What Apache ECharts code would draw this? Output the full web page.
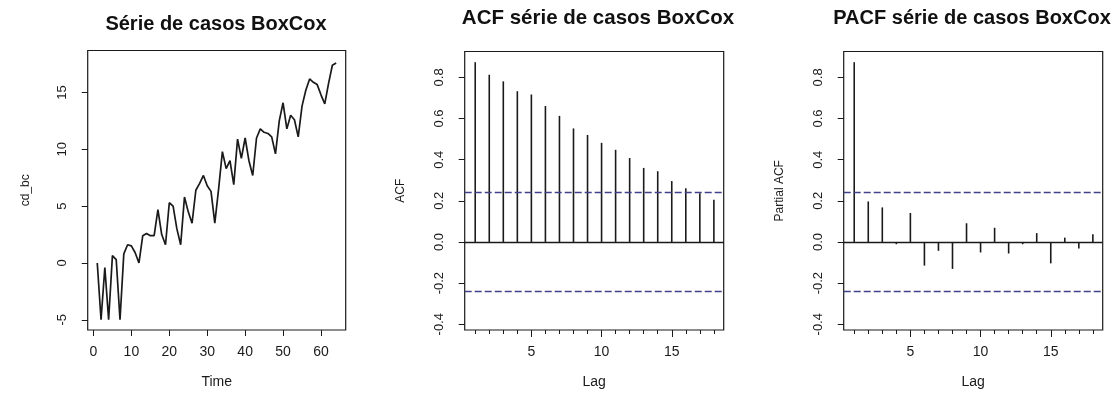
<!DOCTYPE html>
<html>
<head>
<meta charset="utf-8">
<script src="https://cdn.jsdelivr.net/npm/echarts@6/dist/echarts.min.js"></script>
<style>
html,body{margin:0;padding:0;background:#fff;}
#chart{width:1119px;height:394px;}
</style>
</head>
<body>
<div id="chart"></div>
<script>
// ---- data ----
const timeIndex = [];
for (let i = 1; i <= 64; i++) timeIndex.push(i);
const cdBc = [
  0.0, -5.0, -0.4, -5.0, 0.65, 0.3, -5.0, 0.8, 1.6, 1.5,
  0.9, 0.0, 2.4, 2.6, 2.4, 2.4, 4.7, 2.5, 1.6, 5.3,
  5.0, 3.0, 1.6, 5.8, 4.5, 3.5, 6.4, 7.0, 7.7, 6.8,
  6.3, 3.5, 6.5, 9.8, 8.3, 9.0, 6.9, 10.9, 9.2, 11.0,
  9.0, 7.7, 11.0, 11.8, 11.5, 11.4, 11.1, 9.6, 12.5, 14.1,
  11.8, 13.0, 12.6, 11.1, 13.8, 15.2, 16.2, 15.9, 15.7, 14.8,
  14.0, 15.8, 17.4, 17.6
];
const lags = [1,2,3,4,5,6,7,8,9,10,11,12,13,14,15,16,17,18];
const acfValues = [0.874,0.813,0.781,0.733,0.717,0.661,0.613,0.552,0.520,0.482,0.448,0.408,0.360,0.344,0.296,0.261,0.237,0.205];
const pacfValues = [0.874,0.197,0.168,-0.011,0.141,-0.115,-0.043,-0.131,0.091,-0.051,0.069,-0.056,-0.011,0.043,-0.104,0.021,-0.032,0.037];
const confLimit = 0.245;

const timeXTicks = [0,10,20,30,40,50,60];
const timeYTicks = [-5,0,5,10,15];
const lagLabelTicks = [5,10,15];
const acfYTicks = [-0.4,-0.2,0.0,0.2,0.4,0.6,0.8];

const titles = ['Série de casos BoxCox','ACF série de casos BoxCox','PACF série de casos BoxCox'];

// ---- styles ----
const FONT = "'Liberation Sans', Arial, sans-serif";
const INK = '#1a1a1a';
const DASH = '#42428a';

function yAxisCommon(gridIndex, min, max, ticks, name, fmt, nameGap) {
  return {
    type:'value', gridIndex, min, max, name,
    nameLocation:'middle', nameGap, nameRotate:90,
    nameTextStyle:{fontFamily:FONT, fontSize:12, color:INK},
    axisLine:{show:false, onZero:false},
    splitLine:{show:false},
    axisTick:{show:true, inside:false, length:6, customValues:ticks, lineStyle:{color:INK, width:1}},
    axisLabel:{show:true, rotate:90, margin:19, customValues:ticks, fontFamily:FONT, fontSize:13, color:INK, formatter:fmt}
  };
}
function xAxisCommon(gridIndex, min, max, ticks, labelTicks, name, tickLen) {
  return {
    type:'value', gridIndex, min, max, name, position:'bottom',
    nameLocation:'middle', nameGap:45,
    nameTextStyle:{fontFamily:FONT, fontSize:14, color:INK},
    axisLine:{show:false, onZero:false},
    splitLine:{show:false},
    axisTick:{show:true, inside:false, length:tickLen, customValues:ticks, lineStyle:{color:INK, width:1}},
    axisLabel:{show:true, margin:15, customValues:labelTicks, fontFamily:FONT, fontSize:14, color:INK}
  };
}
function minorLagAxis(gridIndex, min, max) {
  return {
    type:'value', gridIndex, min, max, position:'bottom',
    axisLine:{show:false, onZero:false}, splitLine:{show:false},
    axisTick:{show:true, inside:false, length:4, customValues:lags, lineStyle:{color:INK, width:1}},
    axisLabel:{show:false}
  };
}

function spikeRender(params, api) {
  const p0 = api.coord([api.value(0), 0]);
  const p1 = api.coord([api.value(0), api.value(1)]);
  return {type:'line', shape:{x1:p0[0], y1:p0[1], x2:p1[0], y2:p1[1]}, style:{stroke:INK, lineWidth:1.6}};
}
function pairs(xs, ys){ return xs.map((x,i)=>[x, ys[i]]); }

const refLines = {
  silent:true, symbol:['none','none'], label:{show:false},
  data:[
    {yAxis:0, lineStyle:{color:INK, type:'solid', width:1.3}},
    {yAxis:confLimit, lineStyle:{color:DASH, type:[7,3], width:1.3}},
    {yAxis:-confLimit, lineStyle:{color:DASH, type:[7,3], width:1.3}}
  ]
};

const grids = [
  {left:87.7, top:50.5, width:258, height:281},
  {left:464.7, top:51.5, width:259, height:280},
  {left:843.7, top:51.5, width:259, height:280}
].map(g => Object.assign({show:true, borderColor:INK, borderWidth:1.2, backgroundColor:'transparent', containLabel:false}, g));

const option = {
  animation:false,
  backgroundColor:'#ffffff',
  title:[
    {text:titles[0], left:211, top:9, textAlign:'center', textStyle:{fontFamily:FONT, fontWeight:'bold', fontSize:20, color:'#111'}},
    {text:titles[1], left:593, top:3, textAlign:'center', textStyle:{fontFamily:FONT, fontWeight:'bold', fontSize:20.5, color:'#111'}},
    {text:titles[2], left:967, top:3, textAlign:'center', textStyle:{fontFamily:FONT, fontWeight:'bold', fontSize:20, color:'#111'}}
  ],
  grid:grids,
  xAxis:[
    xAxisCommon(0, -1.52, 66.52, timeXTicks, timeXTicks, 'Time', 6),
    xAxisCommon(1, 0.25, 18.7, lagLabelTicks, lagLabelTicks, 'Lag', 7),
    xAxisCommon(2, 0.25, 18.7, lagLabelTicks, lagLabelTicks, 'Lag', 7),
    minorLagAxis(1, 0.25, 18.7),
    minorLagAxis(2, 0.25, 18.7)
  ],
  yAxis:[
    yAxisCommon(0, -5.9, 18.7, timeYTicks, 'cd_bc', v => String(v), 56),
    yAxisCommon(1, -0.428, 0.926, acfYTicks, 'ACF', v => v.toFixed(1), 58),
    yAxisCommon(2, -0.428, 0.926, acfYTicks, 'Partial ACF', v => v.toFixed(1), 58)
  ],
  series:[
    {type:'line', xAxisIndex:0, yAxisIndex:0, data:pairs(timeIndex, cdBc), showSymbol:false, symbol:'none',
     lineStyle:{color:INK, width:1.7}, z:3},
    {type:'custom', xAxisIndex:1, yAxisIndex:1, data:pairs(lags, acfValues), renderItem:spikeRender, z:3},
    {type:'line', xAxisIndex:1, yAxisIndex:1, data:pairs(lags, acfValues), showSymbol:false, symbol:'none',
     lineStyle:{opacity:0, width:0}, markLine:refLines, z:2},
    {type:'custom', xAxisIndex:2, yAxisIndex:2, data:pairs(lags, pacfValues), renderItem:spikeRender, z:3},
    {type:'line', xAxisIndex:2, yAxisIndex:2, data:pairs(lags, pacfValues), showSymbol:false, symbol:'none',
     lineStyle:{opacity:0, width:0}, markLine:refLines, z:2}
  ]
};

const chart = echarts.init(document.getElementById('chart'), null, {renderer:'canvas'});
chart.setOption(option);
</script>
</body>
</html>
